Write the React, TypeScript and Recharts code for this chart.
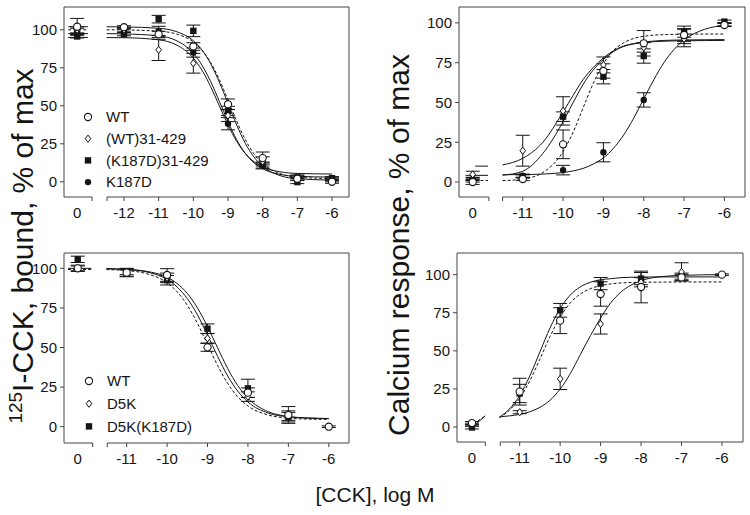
import React from "react";
import { ComposedChart, Line, Scatter, XAxis, YAxis, ErrorBar, ReferenceLine } from "recharts";

const FONT = '"Liberation Sans", Arial, sans-serif';
const INK = "#151515";
const FRAME = "#444";

// legend names
const tlNames = ["WT", "(WT)31-429", "(K187D)31-429", "K187D"];
const blNames = ["WT", "D5K", "D5K(K187D)"];

// ---- top left: 125I-CCK binding ----
const tlConc = [0, -12, -11, -10, -9, -8, -7, -6];
const tlWT = [102, 101.7, 97, 89, 51, 15.6, 2, 0];
const tlWTErr = [5.5, 1, 2, 2.5, 3.5, 4, 1, 1];
const tlWT31 = [100, 100, 86.8, 78, 43.6, 13.4, 3, 1];
const tlWT31Err = [2, 1.5, 7, 6.5, 4, 3, 1, 1];
const tlK31 = [95.6, 97.1, 107, 99.3, 46.7, 11, -0.2, 2.4];
const tlK31Err = [1, 1, 2.5, 3.8, 3, 2, 1, 1];
const tlK187D = [99, 99.5, 99.3, 85, 38.2, 10.5, 3.5, 2];
const tlK187DErr = [2, 1, 3, 3, 4, 2, 1, 1];

const tlCurveX = [-12.5, -12, -11, -10.5, -10, -9.75, -9.5, -9.25, -9, -8.75, -8.5, -8.25, -8, -7.5, -7, -6];
const tlFitWT = [102.0, 101.9, 101.0, 98.9, 92.8, 86.7, 77.7, 65.6, 51.5, 37.4, 25.3, 16.3, 10.2, 4.1, 2.0, 1.1];
const tlFitK31 = [100.0, 99.9, 99.1, 97.3, 92.0, 86.6, 78.5, 67.3, 53.8, 39.9, 27.7, 18.3, 11.9, 5.4, 3.1, 2.1];
const tlFitK187D = [97.5, 97.3, 96.0, 93.0, 84.6, 76.7, 66.0, 53.0, 39.6, 27.7, 18.7, 12.5, 8.6, 4.9, 3.6, 3.1];
const tlFitWT31 = [94.9, 94.8, 93.4, 90.2, 81.4, 73.4, 62.6, 50.0, 37.4, 26.6, 18.6, 13.2, 9.8, 6.6, 5.5, 5.1];

// ---- top right: calcium response ----
const trConc = [0, -11, -10, -9, -8, -7, -6];
const trWT = [0, 1.9, 23.7, 69.8, 87.2, 92.4, 98.7];
const trWTErr = [1.5, 1, 9, 4.5, 8, 4, 1];
const trWT31 = [4.8, 19.7, 44.7, 73.6, 84.6, 90, 99];
const trWT31Err = [2, 9.7, 8.9, 5, 3, 3, 1];
const trK31 = [1, 3.5, 41.1, 66.2, 79.2, 94.5, 100.8];
const trK31Err = [1, 1, 3, 4.5, 4.5, 3.5, 1];
const trK187D = [2, 4, 7.5, 18.7, 51.6, 90.5, 99];
const trK187DErr = [1, 1, 3, 6, 4.5, 5.5, 1];

const trCurveX = [-11.5, -11, -10.5, -10, -9.75, -9.5, -9.25, -9, -8.75, -8.5, -8.25, -8, -7.75, -7.5, -7.25, -7, -6.5, -6];
const trFitWT31 = [10.8, 14.9, 25, 44, 54.5, 64.5, 72, 78, 82.5, 85.5, 87, 88, 88.6, 89, 89.2, 89.3, 89.4, 89.5];
const trFitK31 = [4.3, 6.8, 18, 38, 50, 61.5, 70.5, 77, 82, 85.2, 86.8, 87.7, 88.2, 88.5, 88.7, 88.8, 88.9, 89];
const trFitWT = [0.9, 1.9, 6.0, 19.1, 31.4, 46.8, 62.1, 74.4, 82.7, 87.5, 90.2, 91.6, 92.3, 92.6, 92.8, 92.9, 93, 93];
const trFitK187D = [4.6, 4.7, 5.0, 6.0, 7.0, 8.6, 11.3, 15.2, 21.2, 29.5, 40.1, 52.3, 64.3, 75.0, 83.3, 89.3, 95.9, 98.5];

// ---- bottom left: binding, D5K ----
const blConc = [0, -11, -10, -9, -8, -7, -6];
const blWT = [100, 97.3, 95.8, 50.1, 21.5, 7.4, 0];
const blWTErr = [2, 2.6, 4, 2.5, 3, 5.3, 0.5];
const blD5K = [100, 98, 94, 55.8, 19, 7, null];
const blD5KErr = [1.5, 2, 3, 3, 3, 3, 0];
const blD5KK = [105.7, 97, 92.5, 61.9, 24.2, 6, null];
const blD5KKErr = [2, 2, 3, 3, 5.8, 3, 0];

const blCurveX = [-11.5, -11, -10.5, -10, -9.75, -9.5, -9.25, -9, -8.75, -8.5, -8.25, -8, -7.5, -7, -6.5, -6];
const blFitWT = [99.2, 98.6, 96.6, 90.9, 85.2, 76.7, 65.3, 52.0, 38.7, 27.3, 18.8, 13.1, 7.4, 5.4, 4.8, 4.6];
const blFitD5K = [99.8, 99.2, 97.7, 93.0, 88.2, 80.9, 70.7, 57.9, 44.4, 32.0, 22.4, 15.6, 8.6, 6.2, 5.4, 5.1];
const blFitD5KK = [99.8, 99.4, 98.1, 94.4, 90.4, 84.2, 75.1, 63.2, 49.8, 36.7, 25.9, 18.0, 9.5, 6.5, 5.5, 5.2];

// ---- bottom right: calcium response, D5K ----
const brConc = [0, -11, -10, -9, -8, -7, -6];
const brWT = [2.6, 23.2, 69.8, 87.3, 91.9, 98.2, 100];
const brWTErr = [1, 8.8, 8.5, 8, 10.4, 2, 0.5];
const brD5K = [1.5, 9.7, 31.6, 67.6, 95, 101.8, null];
const brD5KErr = [1, 1, 7, 6.6, 3, 6, 0];
const brD5KK = [-0.3, 22, 76.6, 94.1, 97.4, 99, null];
const brD5KKErr = [1, 6, 4.5, 4, 4, 2, 0];

const brCurveX = [-11.5, -11.25, -11, -10.75, -10.5, -10.25, -10, -9.75, -9.5, -9.25, -9, -8.75, -8.5, -8, -7.5, -7, -6];
const brFitD5KK = [6.5, 11.9, 20.7, 33.5, 49.3, 65.0, 77.8, 86.6, 92.0, 95.0, 96.7, 97.3, 98.0, 98.4, 98.5, 98.5, 98.5];
const brFitWT = [6.2, 11.1, 18.9, 30.3, 44.6, 59.4, 72.1, 81.4, 87.3, 90.8, 92.8, 93.9, 94.5, 95.0, 95.1, 95.2, 95.2];
const brFitD5K = [6.7, 7.3, 8.3, 10.0, 12.9, 17.6, 24.9, 35.0, 47.6, 60.0, 71.5, 81.5, 88.5, 96.0, 98.7, 99.5, 100];

type MarkerKind = "circle" | "diamond" | "square" | "dot";
type Series = { name: string; marker: MarkerKind; values: (number | null)[]; errs: number[] };
type Curve = { x: number[]; y: number[]; dashed?: boolean };
type Stub = { x: [number, number]; y: [number, number]; dashed?: boolean };
type PanelCfg = {
  left: number; top: number; width: number; height: number;
  xDomain: [number, number]; yDomain: [number, number];
  zero: number; breaks: [number, number];
  conc: number[]; series: Series[]; curves: Curve[]; stubs: Stub[];
};

const Marker = ({ kind, cx, cy }: { kind: MarkerKind; cx: number; cy: number }) => {
  if (cx == null || cy == null) return null;
  switch (kind) {
    case "circle":
      return <circle cx={cx} cy={cy} r={3.6} fill="#fff" stroke={INK} strokeWidth={1.1} />;
    case "diamond":
      return (
        <path
          d={`M${cx},${cy - 3.6}L${cx + 2.8},${cy}L${cx},${cy + 3.6}L${cx - 2.8},${cy}Z`}
          fill="#fff"
          stroke={INK}
          strokeWidth={1}
        />
      );
    case "square":
      return <rect x={cx - 3.2} y={cy - 3.2} width={6.4} height={6.4} fill={INK} />;
    default:
      return <circle cx={cx} cy={cy} r={3.2} fill={INK} />;
  }
};

const Y_W = 44;
const PAD = 3;
const X_H = 30;

function Panel(p: PanelCfg) {
  const [x0, x1] = p.xDomain;
  const [y0, y1] = p.yDomain;
  const axisY = PAD + p.height;
  const ticks = [p.zero, p.breaks[0], p.breaks[1], ...p.conc.filter((c) => c !== 0)];

  const xTick = (tp: any) => {
    const v = tp.payload.value;
    const isZero = Math.abs(v - p.zero) < 1e-6;
    const isBreak = p.breaks.some((b) => Math.abs(v - b) < 1e-6);
    return (
      <g>
        {!isZero && <line x1={tp.x} x2={tp.x} y1={axisY} y2={axisY + 4} stroke={FRAME} />}
        {!isBreak && (
          <text x={tp.x} y={axisY + 21} textAnchor="middle" fontSize={15} fill={INK} fontFamily={FONT}>
            {isZero ? "0" : String(v)}
          </text>
        )}
      </g>
    );
  };

  return (
    <div style={{ position: "absolute", left: p.left - Y_W, top: p.top - PAD }}>
      <ComposedChart
        width={p.width + Y_W + PAD}
        height={p.height + PAD + X_H}
        margin={{ top: PAD, right: PAD, bottom: 0, left: 0 }}
      >
        <XAxis
          type="number"
          dataKey="x"
          domain={p.xDomain}
          allowDataOverflow
          ticks={ticks}
          interval={0}
          axisLine={false}
          tickLine={false}
          tickSize={4}
          tickMargin={2}
          height={X_H}
          tick={xTick}
        />
        <YAxis
          type="number"
          domain={p.yDomain}
          allowDataOverflow
          ticks={[0, 25, 50, 75, 100]}
          interval={0}
          width={Y_W}
          tickSize={4}
          tickMargin={3}
          axisLine={{ stroke: FRAME }}
          tickLine={{ stroke: FRAME }}
          tick={{ fontSize: 15, fill: INK, fontFamily: FONT }}
        />
        <ReferenceLine y={y1} stroke={FRAME} ifOverflow="visible" />
        <ReferenceLine x={x1} stroke={FRAME} ifOverflow="visible" />
        <ReferenceLine segment={[{ x: x0, y: y0 }, { x: p.breaks[0], y: y0 }]} stroke={FRAME} ifOverflow="visible" />
        <ReferenceLine segment={[{ x: p.breaks[1], y: y0 }, { x: x1, y: y0 }]} stroke={FRAME} ifOverflow="visible" />

        {p.stubs.map((s, i) => (
          <Line
            key={`stub${i}`}
            data={[{ x: s.x[0], y: s.y[0] }, { x: s.x[1], y: s.y[1] }]}
            dataKey="y"
            type="linear"
            stroke={INK}
            strokeWidth={1}
            strokeDasharray={s.dashed ? "3 2" : undefined}
            dot={false}
            activeDot={false}
            isAnimationActive={false}
          />
        ))}
        {p.curves.map((c, i) => (
          <Line
            key={`fit${i}`}
            data={c.x.map((x, j) => ({ x, y: c.y[j] }))}
            dataKey="y"
            type="monotone"
            stroke={INK}
            strokeWidth={1}
            strokeDasharray={c.dashed ? "3 2" : undefined}
            dot={false}
            activeDot={false}
            isAnimationActive={false}
          />
        ))}
        {[...p.series].reverse().map((s) => (
          <Scatter
            key={s.name}
            data={p.conc
              .map((c, i) => ({ x: c === 0 ? p.zero : c, y: s.values[i], err: s.errs[i] }))
              .filter((d) => d.y != null)}
            dataKey="y"
            isAnimationActive={false}
            shape={(sp: any) => <Marker kind={s.marker} cx={sp.cx} cy={sp.cy} />}
          >
            <ErrorBar dataKey="err" direction="y" width={7} stroke={INK} strokeWidth={1} />
          </Scatter>
        ))}
      </ComposedChart>
    </div>
  );
}

const tl: PanelCfg = {
  left: 64, top: 7, width: 285, height: 190,
  xDomain: [-13.73, -5.51], yDomain: [-10, 115], zero: -13.35, breaks: [-12.92, -12.49],
  conc: tlConc,
  series: [
    { name: tlNames[0], marker: "circle", values: tlWT, errs: tlWTErr },
    { name: tlNames[1], marker: "diamond", values: tlWT31, errs: tlWT31Err },
    { name: tlNames[2], marker: "square", values: tlK31, errs: tlK31Err },
    { name: tlNames[3], marker: "dot", values: tlK187D, errs: tlK187DErr },
  ],
  curves: [
    { x: tlCurveX, y: tlFitWT },
    { x: tlCurveX, y: tlFitK31, dashed: true },
    { x: tlCurveX, y: tlFitK187D },
    { x: tlCurveX, y: tlFitWT31 },
  ],
  stubs: [
    { x: [-13.61, -13.04], y: [102, 102] },
    { x: [-13.61, -13.04], y: [100, 100], dashed: true },
    { x: [-13.61, -13.04], y: [97.5, 97.5] },
    { x: [-13.61, -13.04], y: [95, 95] },
  ],
};

const tr: PanelCfg = {
  left: 459, top: 7, width: 286, height: 190,
  xDomain: [-12.58, -5.49], yDomain: [-9.4, 110], zero: -12.24, breaks: [-11.84, -11.5],
  conc: trConc,
  series: [
    { name: tlNames[0], marker: "circle", values: trWT, errs: trWTErr },
    { name: tlNames[1], marker: "diamond", values: trWT31, errs: trWT31Err },
    { name: tlNames[2], marker: "square", values: trK31, errs: trK31Err },
    { name: tlNames[3], marker: "dot", values: trK187D, errs: trK187DErr },
  ],
  curves: [
    { x: trCurveX, y: trFitWT31 },
    { x: trCurveX, y: trFitK31 },
    { x: trCurveX, y: trFitWT, dashed: true },
    { x: trCurveX, y: trFitK187D },
  ],
  stubs: [
    { x: [-12.18, -11.86], y: [10, 10] },
    { x: [-12.42, -11.86], y: [4.2, 4.2] },
    { x: [-12.42, -11.86], y: [1, 1], dashed: true },
  ],
};

const bl: PanelCfg = {
  left: 64, top: 253, width: 285, height: 190,
  xDomain: [-12.55, -5.5], yDomain: [-10.3, 109.7], zero: -12.21, breaks: [-11.84, -11.48],
  conc: blConc,
  series: [
    { name: blNames[0], marker: "circle", values: blWT, errs: blWTErr },
    { name: blNames[1], marker: "diamond", values: blD5K, errs: blD5KErr },
    { name: blNames[2], marker: "square", values: blD5KK, errs: blD5KKErr },
  ],
  curves: [
    { x: blCurveX, y: blFitWT, dashed: true },
    { x: blCurveX, y: blFitD5K },
    { x: blCurveX, y: blFitD5KK },
  ],
  stubs: [
    { x: [-12.45, -11.87], y: [100, 100] },
    { x: [-12.45, -11.87], y: [99.3, 99.3], dashed: true },
  ],
};

const br: PanelCfg = {
  left: 457, top: 253, width: 286, height: 189,
  xDomain: [-12.55, -5.48], yDomain: [-9.85, 114.2], zero: -12.18, breaks: [-11.85, -11.48],
  conc: brConc,
  series: [
    { name: blNames[0], marker: "circle", values: brWT, errs: brWTErr },
    { name: blNames[1], marker: "diamond", values: brD5K, errs: brD5KErr },
    { name: blNames[2], marker: "square", values: brD5KK, errs: brD5KKErr },
  ],
  curves: [
    { x: brCurveX, y: brFitD5KK },
    { x: brCurveX, y: brFitWT, dashed: true },
    { x: brCurveX, y: brFitD5K },
  ],
  stubs: [
    { x: [-12.14, -11.85], y: [0.4, 7.4] },
    { x: [-12.14, -11.89], y: [2.2, 6.6], dashed: true },
  ],
};

const LegendBlock = ({ names, kinds, x, y, step }: { names: string[]; kinds: MarkerKind[]; x: number; y: number; step: number }) => (
  <g>
    {names.map((n, i) => (
      <g key={n}>
        <Marker kind={kinds[i]} cx={x} cy={y + i * step} />
        <text x={x + 18} y={y + i * step + 5.3} fontSize={15} fill={INK} fontFamily={FONT}>
          {n}
        </text>
      </g>
    ))}
  </g>
);

export default function App() {
  return (
    <div style={{ position: "absolute", left: 0, top: 0, width: 750, height: 515, background: "#fff" }}>
      <Panel {...tl} />
      <Panel {...tr} />
      <Panel {...bl} />
      <Panel {...br} />
      <svg width={750} height={515} style={{ position: "absolute", left: 0, top: 0, pointerEvents: "none" }}>
        <LegendBlock names={tlNames} kinds={["circle", "diamond", "square", "dot"]} x={88} y={117} step={21.7} />
        <LegendBlock names={blNames} kinds={["circle", "diamond", "square"]} x={89} y={381} step={22.7} />
        <text transform="translate(33,246) rotate(-90)" textAnchor="middle" fontSize={30} fill={INK} fontFamily={FONT}>
          <tspan fontSize={19} dy={-11}>125</tspan>
          <tspan dy={11}>I-CCK, bound, % of max</tspan>
        </text>
        <text transform="translate(409,245) rotate(-90)" textAnchor="middle" fontSize={30} fill={INK} fontFamily={FONT}>
          Calcium response, % of max
        </text>
        <text x={375} y={502} textAnchor="middle" fontSize={21} fill={INK} fontFamily={FONT}>
          [CCK], log M
        </text>
      </svg>
    </div>
  );
}
